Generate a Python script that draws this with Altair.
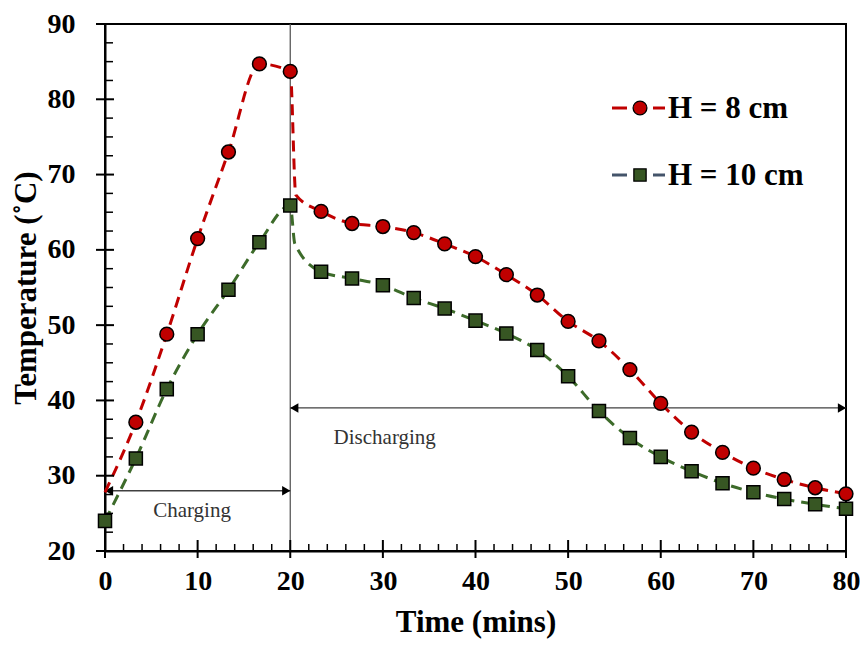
import altair as alt
import pandas as pd
import numpy as np

# ---------------- data ----------------
time = [0, 3.33, 6.67, 10, 13.33, 16.67, 20, 23.33, 26.67, 30, 33.33, 36.67, 40,
        43.33, 46.67, 50, 53.33, 56.67, 60, 63.33, 66.67, 70, 73.33, 76.67, 80]
h8 = [27.8, 37.1, 48.8, 61.5, 73.0, 84.7, 83.7, 65.1, 63.5, 63.1, 62.3, 60.8, 59.1,
      56.7, 54.0, 50.5, 47.9, 44.1, 39.6, 35.8, 33.1, 31.0, 29.5, 28.4, 27.6]
h10 = [24.0, 32.3, 41.5, 48.8, 54.7, 61.0, 65.9, 57.1, 56.2, 55.3, 53.6, 52.2, 50.6,
       48.9, 46.7, 43.2, 38.6, 35.0, 32.5, 30.6, 29.0, 27.8, 26.9, 26.2, 25.6]
# extra (unmarked) points of the smoothed curves just after the switch at 20 min
h8_extra_t = [20.6]
h8_extra = [67.3]
h10_extra_t = [20.5]
h10_extra = [60.8]

series_labels = ["H = 8 cm", "H = 10 cm"]
x_ticks_major = [0, 10, 20, 30, 40, 50, 60, 70, 80]
y_ticks_major = [20, 30, 40, 50, 60, 70, 80, 90]

switch_time = 20
charge_arrow_y = 28.0
discharge_arrow_y = 39.0

# ---------------- styling ----------------
W, H = 741, 527
RED = "#C00000"
GREEN = "#375623"
GREEN_LINE = "#3D6B2A"
LEG_BLUE = "#44546A"
SERIF = "Liberation Serif"
DASH = [11, 7]

xs = alt.Scale(domain=[0, 80], nice=False, zero=False)
ys = alt.Scale(domain=[20, 90], nice=False, zero=False)

# line data
l8 = pd.DataFrame({"t": time[1:] + h8_extra_t + [time[0]], "v": h8[1:] + h8_extra + [h8[0]]}).sort_values("t")
l10 = pd.DataFrame({"t": time + h10_extra_t, "v": h10 + h10_extra}).sort_values("t")
p8 = pd.DataFrame({"t": time[1:], "v": h8[1:]})
p10 = pd.DataFrame({"t": time, "v": h10})

X = alt.X("t:Q", scale=xs, title="Time (mins)",
          axis=alt.Axis(values=x_ticks_major, format="d", labelFlush=False))
Y = alt.Y("v:Q", scale=ys, title="Temperature (˚C)",
          axis=alt.Axis(values=y_ticks_major, format="d", labelFlush=False))

line8 = alt.Chart(l8).mark_line(color=RED, strokeWidth=3, strokeDash=DASH,
                                interpolate="monotone").encode(x=X, y=Y)
line10 = alt.Chart(l10).mark_line(color=GREEN_LINE, strokeWidth=3, strokeDash=DASH,
                                  interpolate="monotone").encode(x=X, y=Y)
pts8 = alt.Chart(p8).mark_point(shape="circle", filled=True, fill=RED, stroke="black",
                                strokeWidth=1.5, size=190, opacity=1).encode(x=X, y=Y)
pts10 = alt.Chart(p10).mark_point(shape="square", filled=True, fill=GREEN, stroke="black",
                                  strokeWidth=1.5, size=170, opacity=1).encode(x=X, y=Y)

# vertical line at switch time
vdf = pd.DataFrame({"t": [switch_time], "a": [20], "b": [90]})
vline = alt.Chart(vdf).mark_rule(color="#595959", strokeWidth=1.3).encode(
    x=alt.X("t:Q", scale=xs), y=alt.Y("a:Q", scale=ys), y2="b:Q")

# arrows
adf = pd.DataFrame({"x1": [0, switch_time], "x2": [switch_time, 80],
                    "y": [charge_arrow_y, discharge_arrow_y]})
arrows = alt.Chart(adf).mark_rule(color="#404040", strokeWidth=1.3).encode(
    x=alt.X("x1:Q", scale=xs), x2="x2:Q", y=alt.Y("y:Q", scale=ys))
heads_r = alt.Chart(adf).mark_point(shape="triangle-right", filled=True, color="black",
                                    size=90, opacity=1, xOffset=-4).encode(
    x=alt.X("x2:Q", scale=xs), y=alt.Y("y:Q", scale=ys))
heads_l = alt.Chart(adf).mark_point(shape="triangle-left", filled=True, color="black",
                                    size=90, opacity=1, xOffset=4).encode(
    x=alt.X("x1:Q", scale=xs), y=alt.Y("y:Q", scale=ys))

tdf = pd.DataFrame({"t": [9.4, 30.2], "v": [25.3, 35.0], "label": ["Charging", "Discharging"]})
texts = alt.Chart(tdf).mark_text(font=SERIF, fontSize=21, color="#333333").encode(
    x=alt.X("t:Q", scale=xs), y=alt.Y("v:Q", scale=ys), text="label:N")

# custom axis ticks
yt = pd.DataFrame({"v": np.arange(20, 90.01, 2.5)})
yt["major"] = (yt["v"] % 10 == 0)
xt = pd.DataFrame({"t": np.arange(0, 80.01, 2)})
xt["major"] = (xt["t"] % 10 == 0)
ytick_major = alt.Chart(yt[yt.major]).mark_rule(color="black", strokeWidth=2).encode(
    y=alt.Y("v:Q", scale=ys), x=alt.value(-9), x2=alt.value(9))
ytick_minor = alt.Chart(yt[~yt.major]).mark_rule(color="black", strokeWidth=1.5).encode(
    y=alt.Y("v:Q", scale=ys), x=alt.value(0), x2=alt.value(8))
xtick_major = alt.Chart(xt[xt.major]).mark_rule(color="black", strokeWidth=2).encode(
    x=alt.X("t:Q", scale=xs), y=alt.value(H - 11), y2=alt.value(H + 7))
xtick_minor = alt.Chart(xt[~xt.major]).mark_rule(color="black", strokeWidth=1.5).encode(
    x=alt.X("t:Q", scale=xs), y=alt.value(H - 7), y2=alt.value(H))

# manual legend
legend_layers = []
leg_rows = [(series_labels[0], RED, RED, "circle", 190, 84),
            (series_labels[1], LEG_BLUE, GREEN, "square", 150, 151)]
for lab, lcol, mcol, shp, sz, yy in leg_rows:
    d = pd.DataFrame({"label": [lab]})
    base = alt.Chart(d)
    legend_layers.append(base.mark_rule(color=lcol, strokeWidth=3).encode(
        x=alt.value(507), x2=alt.value(522), y=alt.value(yy)))
    legend_layers.append(base.mark_rule(color=lcol, strokeWidth=3).encode(
        x=alt.value(548), x2=alt.value(560), y=alt.value(yy)))
    legend_layers.append(base.mark_point(shape=shp, filled=True, fill=mcol, stroke="black",
                                         strokeWidth=1.3, size=sz, opacity=1).encode(
        x=alt.value(535), y=alt.value(yy)))
    legend_layers.append(base.mark_text(font=SERIF, fontSize=31, fontWeight="bold",
                                        align="left", baseline="middle", color="black").encode(
        x=alt.value(563), y=alt.value(yy + 1), text="label:N"))

chart = alt.layer(
    vline, arrows, heads_r, heads_l, texts,
    line8, line10, pts8, pts10,
    ytick_major, ytick_minor, xtick_major, xtick_minor,
    *legend_layers
).properties(
    width=W, height=H,
    autosize=alt.AutoSizeParams(type="none"),
    padding={"left": 97, "top": 16, "right": 14, "bottom": 96}
).configure_view(
    stroke="black", strokeWidth=2
).configure_axis(
    grid=False, ticks=False, domainColor="black", domainWidth=2,
    labelFont=SERIF, labelFontSize=28, labelFontWeight="bold", labelColor="black",
    titleFont=SERIF, titleFontSize=31, titleFontWeight="bold", titleColor="black"
).configure_axisY(
    labelPadding=30, titlePadding=5, titleFontSize=31
).configure_axisX(
    labelPadding=16, titlePadding=12
)

chart.save("out.html", embed_options={"renderer": "svg", "actions": False})
